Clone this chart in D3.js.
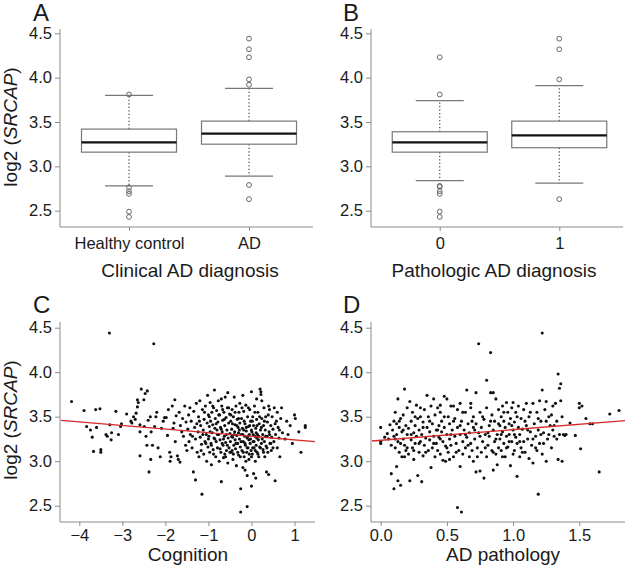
<!DOCTYPE html>
<html><head><meta charset="utf-8">
<script src="https://cdn.jsdelivr.net/npm/d3@7"></script>
<style>body{margin:0;background:#fff}svg{display:block}text{font-family:"Liberation Sans",Arial,sans-serif;fill:#1a1a1a}</style>
</head><body><svg id="c" width="629" height="567"></svg>
<script>
// ---------- DATA ----------
const clinicalCats = ["Healthy control", "AD"];
const pathoCats = ["0", "1"];
const yTicks = [2.5, 3.0, 3.5, 4.0, 4.5];
// box stats: [lowWhisker, q1, median, q3, highWhisker]
const clinicalStats = [[2.78, 3.16, 3.27, 3.42, 3.80], [2.89, 3.25, 3.37, 3.51, 3.88]];
const clinicalOutliers = [[3.81, 2.76, 2.72, 2.69, 2.49, 2.43], [4.44, 4.32, 4.23, 3.98, 3.92, 2.79, 2.63]];
const pathoStats = [[2.84, 3.16, 3.27, 3.39, 3.74], [2.81, 3.21, 3.35, 3.51, 3.91]];
const pathoOutliers = [[4.23, 3.81, 2.78, 2.77, 2.72, 2.69, 2.49, 2.43], [4.44, 4.32, 3.98, 2.63]];
const cognitionTicks = [-4, -3, -2, -1, 0, 1];
const pathologyTicks = [0.0, 0.5, 1.0, 1.5];
const cognitionFit = [3.28, -0.0406];   // intercept, slope
const pathologyFit = [3.235, 0.12];
const cognitionPts = [
[-4.18,3.67],[-3.89,3.57],[-3.83,3.39],[-3.74,3.35],[-3.7,3.27],[-3.67,3.11],[-3.62,3.58],[-3.6,3.38],[-3.52,3.59],[-3.5,3.13],[-3.5,3.1],[-3.38,3.3],[-3.35,3.28],[-3.3,4.44],[-3.29,3.41],[-3.26,3.24],[-3.25,3.32],[-3.15,3.56],[-3.09,3.3],[-3.04,3.39],[-3.02,3.42],[-2.9,3.53],[-2.8,3.45],[-2.78,3.43],[-2.74,3.5],[-2.7,3.47],[-2.68,3.54],[-2.65,3.61],[-2.65,3.69],[-2.63,3.66],[-2.59,3.41],[-2.59,3.33],[-2.59,3.06],[-2.56,3.81],[-2.5,3.69],[-2.47,3.76],[-2.49,3.39],[-2.45,3.28],[-2.43,3.18],[-2.42,3.79],[-2.4,3.46],[-2.38,2.88],[-2.35,3.5],[-2.34,3.02],[-2.33,3.33],[-2.3,3.18],[-2.27,4.32],[-2.25,3.39],[-2.22,3.5],[-2.2,3.55],[-2.17,3.15],[-2.12,3.05],[-2.09,3.37],[-2.05,3.45],[-2.02,3.49],[-1.98,3.49],[-1.95,3.29],[-1.93,3.58],[-1.9,3.1],[-1.89,3.0],[-1.87,3.05],[-1.84,3.62],[-1.82,3.37],[-1.8,3.43],[-1.78,3.69],[-1.77,3.22],[-1.75,3.51],[-1.72,3.06],[-1.7,3.02],[-1.68,3.55],[-1.66,2.99],[-1.65,3.4],[-1.62,3.33],[-1.6,3.48],[-1.58,3.28],[-1.55,3.62],[-1.53,3.18],[-1.52,3.44],[-1.5,3.12],
[-1.48,3.36],[-1.46,3.52],[-1.45,3.22],[-1.43,3.6],[-1.42,3.3],[-1.4,3.45],[-1.38,3.15],[-1.37,3.28],[-1.35,2.88],[-1.34,3.56],[-1.32,3.38],[-1.3,2.79],[-1.3,3.25],[-1.28,3.65],[-1.27,3.42],[-1.26,3.1],
[-1.24,3.33],[-1.23,3.5],[-1.22,3.05],[-1.2,3.68],[-1.19,3.27],[-1.18,3.4],[-1.16,3.19],[-1.15,2.63],[-1.14,3.58],[-1.12,3.35],[-1.11,3.08],[-1.1,3.47],[-1.08,3.22],[-1.07,3.62],[-1.05,3.3],[-1.04,3.0],[-1.03,3.43],[-1.02,3.74],[-1.01,3.16],[-1.0,3.52],
[-0.99,3.28],[-0.98,3.39],[-0.97,3.1],[-0.96,3.66],[-0.95,3.45],[-0.94,3.2],[-0.93,2.96],[-0.92,3.55],[-0.91,3.32],[-0.9,3.41],[-0.89,3.13],[-0.88,3.6],[-0.87,3.26],[-0.86,3.8],[-0.85,3.37],[-0.84,3.48],[-0.83,3.05],[-0.82,3.22],[-0.81,3.57],[-0.8,3.35],[-0.79,3.15],[-0.78,3.44],[-0.77,3.68],[-0.76,3.3],[-0.75,3.0],
[-0.74,3.52],[-0.73,3.24],[-0.72,3.38],[-0.71,3.1],[-0.7,2.77],[-0.69,3.62],[-0.68,3.33],[-0.67,3.46],[-0.66,3.18],[-0.65,3.04],[-0.64,3.55],[-0.63,3.28],[-0.62,3.4],[-0.61,3.72],[-0.6,3.21],[-0.59,3.49],[-0.58,3.12],[-0.57,3.35],[-0.56,3.6],[-0.55,2.98],[-0.54,3.26],[-0.53,3.43],[-0.52,3.15],[-0.51,3.53],[-0.5,3.31],[-0.55,3.77],[-0.62,3.08],[-0.68,3.2],
[-0.49,3.22],[-0.48,3.45],[-0.47,3.1],[-0.46,3.36],[-0.45,3.58],[-0.44,3.27],[-0.43,3.02],[-0.42,3.5],[-0.41,3.18],[-0.4,3.72],[-0.39,3.33],[-0.38,3.41],[-0.37,3.14],[-0.36,3.62],[-0.35,2.95],[-0.34,3.29],[-0.33,3.47],[-0.32,3.2],[-0.31,3.38],[-0.3,3.07],[-0.29,3.55],[-0.28,3.25],[-0.27,3.43],[-0.26,3.16],[-0.25,2.43],[-0.25,2.69],[-0.45,3.12],[-0.38,3.24],[-0.3,3.32],[-0.27,3.65],
[-0.24,3.3],[-0.23,3.48],[-0.22,3.12],[-0.21,3.37],[-0.2,3.74],[-0.2,2.93],[-0.19,3.22],[-0.18,3.56],[-0.17,3.05],[-0.16,3.28],[-0.15,2.9],[-0.15,3.42],[-0.14,3.18],[-0.13,3.63],[-0.12,3.34],[-0.11,3.1],[-0.1,2.49],[-0.1,2.84],[-0.1,3.26],[-0.09,3.5],[-0.08,3.15],[-0.07,3.39],[-0.06,3.02],[-0.05,3.3],[-0.04,3.58],[-0.03,3.2],[-0.02,3.45],[-0.01,3.12],[0.0,2.72],[0.0,3.78],[-0.06,3.24],[-0.18,3.35],
[0.01,3.33],[0.02,3.08],[0.03,3.5],[0.04,3.22],[0.05,2.86],[0.05,3.4],[0.06,3.15],[0.07,3.62],[0.08,3.28],[0.09,3.0],[0.1,2.81],[0.1,3.37],[0.11,3.18],[0.12,3.47],[0.13,3.1],[0.14,3.3],[0.15,3.55],[0.16,3.24],[0.17,3.05],[0.18,3.42],[0.19,3.16],[0.2,3.81],[0.21,3.35],[0.22,3.78],[0.22,3.75],[0.23,3.2],[0.24,3.48],[0.24,3.68],[0.12,3.26],[0.03,3.15],
[0.26,3.3],[0.27,3.13],[0.28,3.4],[0.29,3.6],[0.3,3.22],[0.31,3.05],[0.32,3.35],[0.33,3.5],[0.34,3.17],[0.35,2.88],[0.36,3.28],[0.37,3.44],[0.38,3.1],[0.4,2.85],[0.41,3.33],[0.42,3.58],[0.43,3.2],[0.45,3.4],[0.46,3.12],[0.47,3.27],[0.48,3.5],[0.5,3.36],
[0.52,3.22],[0.53,3.6],[0.55,2.78],[0.56,3.3],[0.58,3.45],[0.6,3.15],[0.62,3.38],[0.64,3.26],[0.66,3.05],[0.68,3.48],[0.7,3.6],[0.72,3.32],
[0.78,3.25],[0.82,3.45],[0.85,3.3],[0.9,3.4],[0.95,3.2],[1.0,3.52],[1.02,3.48],[1.1,3.33],[1.15,3.1],[1.25,3.4],[1.25,3.38],
[-1.21,3.45],[-1.17,3.12],[-1.13,3.3],[-1.09,3.55],[-1.06,3.2],[-0.98,3.5],[-0.96,3.33],[-0.93,3.18],[-0.9,3.62],[-0.88,3.08],[-0.85,3.25],[-0.82,3.42],[-0.79,3.3],[-0.76,3.52],[-0.73,3.14],[-0.7,3.36],[-0.67,3.58],[-0.65,3.25],[-0.63,3.47],[-0.6,3.05],[-0.58,3.3],[-0.56,3.18],[-0.53,3.6],[-0.5,3.1],[-0.48,3.52],[-0.46,3.28],[-0.44,3.42],[-0.42,3.08],[-0.4,3.3],[-0.38,3.55],[-0.36,3.2],[-0.34,3.4],[-0.32,3.1],[-0.3,3.48],[-0.28,3.35],[-0.26,3.05],[-0.24,3.22],[-0.22,3.6],[-0.2,3.3],[-0.19,3.1],[-0.17,3.45],[-0.15,3.2],[-0.13,3.0],[-0.12,3.38],[-0.1,3.15],[-0.08,3.28],[-0.07,3.6],[-0.05,3.08],[-0.04,3.4],[-0.02,3.25],[0.0,3.35],[0.0,3.05],[0.02,3.45],[0.04,3.3],[0.06,3.22],[0.08,3.55],[0.09,3.12],[0.11,3.32],[0.13,3.4],[0.15,3.08],[0.17,3.28],[0.19,3.5],[0.21,3.15],[0.23,3.38],[0.25,3.25],[0.28,3.1],[0.3,3.45],[0.33,3.28],[0.36,3.15],[0.39,3.52],[0.42,3.3],[0.45,3.2],[0.5,3.15],[0.55,3.42],[0.6,3.55],[0.65,3.35],[0.4,3.62],[0.12,3.7],[-0.7,3.7],[-1.0,3.25]
];
const pathologyPts = [
[0.0,3.38],[0.0,3.22],[0.0,3.2],[0.03,3.27],[0.05,3.31],[0.06,3.25],[0.07,3.41],[0.08,2.86],[0.08,3.18],[0.09,3.35],[0.1,2.69],[0.1,3.28],[0.1,3.45],
[0.11,3.15],[0.11,3.55],[0.12,2.94],[0.12,3.3],[0.13,2.78],[0.13,3.7],[0.13,3.22],[0.14,3.38],[0.14,3.1],[0.15,2.73],[0.15,3.48],[0.16,3.33],[0.16,3.05],[0.17,3.25],[0.17,3.52],[0.18,3.81],[0.18,3.18],[0.19,3.4],[0.19,3.12],[0.2,3.3],[0.2,3.6],[0.12,3.42],[0.15,3.2],
[0.21,3.08],[0.21,3.37],[0.22,2.78],[0.22,3.67],[0.23,3.24],[0.23,3.45],[0.24,3.15],[0.24,3.55],[0.25,3.32],[0.25,3.02],[0.26,3.4],[0.26,3.2],[0.27,3.63],[0.27,3.28],[0.28,2.84],[0.28,3.48],[0.29,3.1],[0.29,3.35],[0.3,3.22],[0.3,3.5],
[0.31,2.77],[0.31,3.3],[0.32,3.06],[0.32,3.44],[0.33,3.18],[0.33,3.58],[0.34,3.26],[0.35,3.74],[0.35,3.38],[0.36,3.12],[0.36,3.5],[0.37,3.24],[0.37,3.33],[0.38,2.93],[0.38,3.62],[0.39,3.15],[0.39,3.42],[0.4,3.7],[0.4,3.28],
[0.41,3.05],[0.41,3.52],[0.42,3.35],[0.42,3.2],[0.43,3.6],[0.43,3.12],[0.44,3.4],[0.44,3.27],[0.45,3.55],[0.45,3.08],[0.46,3.33],[0.46,3.45],[0.47,3.01],[0.47,3.22],[0.48,3.73],[0.48,3.38],[0.49,3.0],[0.49,3.17],[0.5,3.7],[0.5,3.3],
[0.51,3.5],[0.51,3.1],[0.52,3.25],[0.52,3.42],[0.53,3.62],[0.53,3.18],[0.54,3.35],[0.55,3.62],[0.55,3.05],[0.56,3.28],[0.56,3.48],[0.57,3.2],[0.58,2.48],[0.58,3.38],[0.59,3.12],[0.6,2.94],[0.6,3.65],[0.6,3.3],
[0.61,2.43],[0.61,3.45],[0.62,3.22],[0.62,3.08],[0.63,3.35],[0.64,3.55],[0.64,3.15],[0.65,3.8],[0.65,3.27],[0.66,3.42],[0.67,3.05],[0.67,3.32],[0.68,3.2],[0.68,3.6],[0.69,3.12],[0.7,3.38],[0.7,3.5],
[0.71,3.25],[0.72,2.88],[0.72,3.77],[0.72,3.42],[0.73,3.15],[0.74,4.32],[0.74,3.32],[0.75,2.89],[0.75,3.55],[0.76,3.1],[0.76,3.38],[0.77,3.22],[0.78,2.81],[0.78,3.47],[0.79,3.3],[0.8,3.91],[0.8,3.05],[0.8,3.6],
[0.81,3.18],[0.82,3.4],[0.82,3.28],[0.83,4.22],[0.83,3.77],[0.84,3.12],[0.84,3.52],[0.85,3.77],[0.85,2.9],[0.85,3.35],[0.86,3.22],[0.86,3.45],[0.87,3.7],[0.87,3.08],[0.88,2.96],[0.88,3.3],[0.89,3.58],[0.89,3.15],[0.9,3.4],[0.9,3.25],
[0.91,3.5],[0.91,3.12],[0.92,3.33],[0.92,3.62],[0.93,3.2],[0.93,3.45],[0.94,3.05],[0.94,3.38],[0.95,3.66],[0.95,3.28],[0.96,3.55],[0.96,3.16],[0.97,3.42],[0.97,3.3],[0.98,2.95],[0.98,3.48],[0.99,3.22],[0.99,3.6],[1.0,3.66],[1.0,3.35],
[1.01,3.12],[1.01,3.44],[1.02,3.27],[1.02,3.55],[1.03,2.83],[1.03,3.2],[1.04,3.38],[1.04,3.62],[1.05,3.05],[1.05,3.3],[1.06,3.48],[1.06,3.15],[1.07,3.36],[1.08,3.22],[1.08,3.58],[1.09,3.1],[1.1,3.65],[1.1,3.4],
[1.11,3.25],[1.12,3.5],[1.12,3.03],[1.13,3.33],[1.14,3.18],[1.15,3.65],[1.15,2.98],[1.16,3.42],[1.17,3.28],[1.18,3.55],[1.18,3.12],[1.19,2.63],[1.19,3.35],[1.2,3.68],[1.2,3.2],
[1.21,3.45],[1.22,4.44],[1.22,3.8],[1.22,3.08],[1.23,3.32],[1.24,3.58],[1.25,3.0],[1.25,3.67],[1.26,3.25],[1.27,3.5],[1.28,3.4],[1.29,3.15],[1.3,3.62],[1.3,3.35],
[1.31,3.28],[1.32,3.65],[1.33,3.45],[1.34,3.98],[1.34,3.02],[1.35,3.82],[1.35,3.3],[1.36,3.87],[1.36,3.68],[1.37,3.0],[1.37,3.5],[1.38,3.3],[1.39,3.29],[1.4,3.3],
[1.43,3.43],[1.47,3.29],[1.5,3.65],[1.5,3.6],[1.51,3.14],[1.52,3.62],[1.55,3.48],[1.58,3.42],[1.6,3.42],[1.65,2.88],[1.73,3.53],[1.8,3.57],
[0.11,3.25],[0.14,3.45],[0.17,3.35],[0.2,3.15],[0.23,3.3],[0.26,3.5],[0.29,3.2],[0.32,3.38],[0.34,3.1],[0.37,3.45],[0.4,3.2],[0.43,3.35],[0.45,3.25],[0.48,3.5],[0.5,3.15],[0.53,3.3],[0.55,3.45],[0.57,3.1],[0.6,3.4],[0.62,3.55],[0.64,3.3],[0.66,3.18],[0.69,3.45],[0.71,3.35],[0.73,3.05],[0.75,3.28],[0.77,3.5],[0.79,3.15],[0.81,3.32],[0.83,3.45],[0.85,3.1],[0.87,3.25],[0.89,3.42],[0.91,3.3],[0.93,3.55],[0.95,3.15],[0.97,3.22],[0.99,3.4],[1.01,3.3],[1.03,3.5],[1.05,3.22],[1.07,3.1],[1.09,3.45],[1.11,3.35],[1.13,3.55],[1.15,3.25],[1.17,3.15],[1.19,3.48],[1.21,3.3],[1.23,3.2],[1.25,3.45],[1.27,3.3],[1.29,3.52],[1.31,3.4],[1.33,3.25],[0.68,3.65],[0.58,3.58],[0.45,3.63],[0.3,3.6],[0.92,3.05],[1.0,3.08],[0.7,3.0],[0.52,3.02],[0.25,3.12],[0.18,3.05]
];

// ---------- DRAW ----------
const svg = d3.select("#c");
const AXC = "#8a8a8a", TICKFS = "16.5px", TITLEFS = "19px", LETTERFS = "24px";

function yAxisTitle(x, y) {
  const t = svg.append("text").attr("transform", `translate(${x},${y}) rotate(-90)`)
    .attr("text-anchor", "middle").style("font-size", TITLEFS);
  t.append("tspan").text("log2 (");
  t.append("tspan").style("font-style", "italic").text("SRCAP");
  t.append("tspan").text(")");
}
function letter(s, x, y) {
  svg.append("text").attr("x", x).attr("y", y).style("font-size", LETTERFS).text(s);
}
function styleAxis(g) {
  g.select(".domain").remove();
  g.selectAll(".tick line").attr("stroke", AXC);
  g.selectAll(".tick text").style("font-size", TICKFS).attr("fill", "#1a1a1a")
    .style("font-family", '"Liberation Sans",Arial,sans-serif');
}
function frame(x0, x1, yTop, yBot) {
  svg.append("line").attr("x1", x0).attr("x2", x0).attr("y1", yTop).attr("y2", yBot).attr("stroke", AXC);
  svg.append("line").attr("x1", x0).attr("x2", x1).attr("y1", yBot).attr("y2", yBot).attr("stroke", AXC);
}

function boxPanel(o) {
  const y = d3.scaleLinear().domain([2.5, 4.5]).range([210.7, 33.3]);
  const x = d3.scalePoint().domain(o.cats).range(o.xr).padding(0.55);
  frame(o.x0, o.x1, 29, 227);
  svg.append("g").attr("transform", `translate(${o.x0},0)`)
    .call(d3.axisLeft(y).tickValues(yTicks).tickFormat(d3.format(".1f")).tickSize(5).tickPadding(3)).call(styleAxis);
  svg.append("g").attr("transform", `translate(0,227)`)
    .call(d3.axisBottom(x).tickSize(4).tickPadding(6)).call(styleAxis);
  const bw = 95, cw = 48;
  o.cats.forEach((c, i) => {
    const [lo, q1, md, q3, hi] = o.stats[i], cx = x(c);
    const g = svg.append("g");
    g.append("line").attr("x1", cx).attr("x2", cx).attr("y1", y(q3)).attr("y2", y(hi))
      .attr("stroke", "#333").attr("stroke-dasharray", "1.3,2.2").attr("stroke-width", 1.1);
    g.append("line").attr("x1", cx).attr("x2", cx).attr("y1", y(q1)).attr("y2", y(lo))
      .attr("stroke", "#333").attr("stroke-dasharray", "1.3,2.2").attr("stroke-width", 1.1);
    [lo, hi].forEach(v => g.append("line").attr("x1", cx - cw / 2).attr("x2", cx + cw / 2)
      .attr("y1", y(v)).attr("y2", y(v)).attr("stroke", "#777").attr("stroke-width", 1.2));
    g.append("rect").attr("x", cx - bw / 2).attr("width", bw).attr("y", y(q3)).attr("height", y(q1) - y(q3))
      .attr("fill", "#fff").attr("stroke", "#777").attr("stroke-width", 1.2);
    g.append("line").attr("x1", cx - bw / 2).attr("x2", cx + bw / 2).attr("y1", y(md)).attr("y2", y(md))
      .attr("stroke", "#111").attr("stroke-width", 2.3);
    g.selectAll("circle").data(o.out[i]).join("circle").attr("cx", cx).attr("cy", d => y(d)).attr("r", 2.4)
      .attr("fill", "none").attr("stroke", "#666").attr("stroke-width", 1);
  });
  svg.append("text").attr("x", o.titleX).attr("y", 277).attr("text-anchor", "middle").style("font-size", TITLEFS).text(o.title);
}

function scatterPanel(o) {
  const y = d3.scaleLinear().domain([2.5, 4.5]).range([505.7, 327.7]);
  const x = d3.scaleLinear().domain(o.xd).range(o.xr);
  frame(o.x0, o.x1, 322, 522);
  svg.append("g").attr("transform", `translate(${o.x0},0)`)
    .call(d3.axisLeft(y).tickValues(yTicks).tickFormat(d3.format(".1f")).tickSize(5).tickPadding(3)).call(styleAxis);
  svg.append("g").attr("transform", `translate(0,522)`)
    .call(d3.axisBottom(x).tickValues(o.ticks).tickFormat(o.fmt).tickSize(4).tickPadding(3.5)).call(styleAxis);
  svg.append("g").selectAll("circle").data(o.pts).join("circle")
    .attr("cx", d => x(d[0])).attr("cy", d => y(d[1])).attr("r", 1.55).attr("fill", "#111");
  const xa = x.invert(o.x0 + 1), xb = x.invert(o.x1);
  svg.append("line").attr("x1", x(xa)).attr("x2", x(xb))
    .attr("y1", y(o.fit[0] + o.fit[1] * xa)).attr("y2", y(o.fit[0] + o.fit[1] * xb))
    .attr("stroke", "#d42a2a").attr("stroke-width", 1.3);
  svg.append("text").attr("x", o.titleX).attr("y", 561).attr("text-anchor", "middle").style("font-size", TITLEFS).text(o.title);
}

boxPanel({cats: clinicalCats, stats: clinicalStats, out: clinicalOutliers, xr: [63, 315], x0: 60, x1: 313,
  title: "Clinical AD diagnosis", titleX: 190});
boxPanel({cats: pathoCats, stats: pathoStats, out: pathoOutliers, xr: [374, 625], x0: 371, x1: 623,
  title: "Pathologic AD diagnosis", titleX: 494});
scatterPanel({pts: cognitionPts, fit: cognitionFit, ticks: cognitionTicks, fmt: d3.format("d"),
  xd: [-4, 1], xr: [79.3, 294.5], x0: 60, x1: 315, title: "Cognition", titleX: 188});
scatterPanel({pts: pathologyPts, fit: pathologyFit, ticks: pathologyTicks, fmt: d3.format(".1f"),
  xd: [0, 1.5], xr: [380.7, 579.3], x0: 371, x1: 625, title: "AD pathology", titleX: 503});

yAxisTitle(17, 127);
yAxisTitle(17, 420);
letter("A", 33, 21); letter("B", 343, 21); letter("C", 33, 313); letter("D", 343, 313);
</script></body></html>
